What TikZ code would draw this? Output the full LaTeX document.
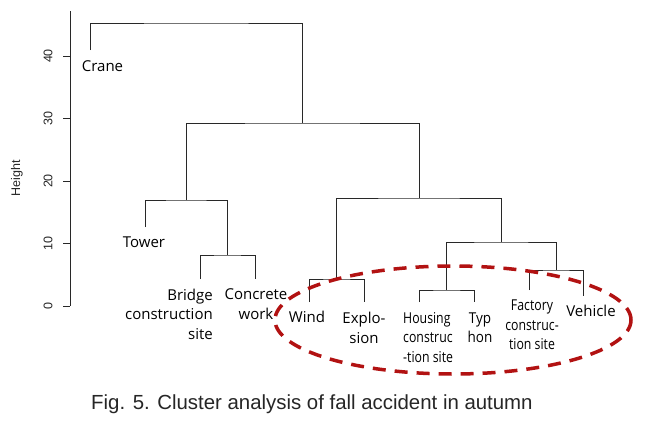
\documentclass[tikz,border=0pt]{standalone}
\usepackage{fontspec}
\setmainfont{Open Sans}
\newfontfamily\condfont[FakeStretch=0.82]{Open Sans}
\newfontfamily\typfont[FakeStretch=0.9]{Open Sans}
\newfontfamily\arialfont{Liberation Sans}
\usetikzlibrary{shapes.geometric}
\definecolor{clred}{RGB}{178,18,18}
\definecolor{treegray}{RGB}{40,40,40}
\begin{document}
\begin{tikzpicture}[x=1pt,y=-1pt,
  tree/.style={draw=treegray,line width=1pt},
  lab/.style={inner sep=0pt,font=\fontsize{15}{19.4}\selectfont,text=black},
  clab/.style={inner sep=0pt,font=\condfont\fontsize{15}{19.4}\selectfont,text=black},
  tlab/.style={inner sep=0pt,font=\typfont\fontsize{15}{19.4}\selectfont,text=black},
  ticklab/.style={inner sep=0pt,rotate=90,font=\arialfont\fontsize{12.5}{14}\selectfont,text=black!85},
  cluster/.style={draw=clred,line width=3.5pt,dash pattern=on 13pt off 9pt,ellipse,inner sep=0pt}
]
\fill[white] (0,0) rectangle (651,421);
\useasboundingbox (0,0) rectangle (651,421);

% axis
\draw[tree] (70,11) -- (70,306);
\foreach \v/\yy in {0/306,10/243.5,20/181,30/118.5,40/56}{
  \draw[tree] (63,\yy) -- (70,\yy);
  \node[ticklab] (tick\v) at (48,\yy) {\v};
}
\node[ticklab] (ylabel) at (17,178) {Height};

% leaf tips and merges
\coordinate (tCrane) at (90,50);
\coordinate (tTower) at (145,227);
\coordinate (tBridge) at (200,279);
\coordinate (tConcrete) at (255,279);
\coordinate (tWind) at (309,302);
\coordinate (tExplo) at (364,302);
\coordinate (tHousing) at (419,302);
\coordinate (tTyphoon) at (474,302);
\coordinate (tFactory) at (529,290);
\coordinate (tVehicle) at (583,296);
\coordinate (mBC) at (227,255);
\coordinate (mT) at (186,200);
\coordinate (mWE) at (336.5,279);
\coordinate (mHT) at (446.5,290);
\coordinate (mFV) at (556,270);
\coordinate (mHF) at (501,242);
\coordinate (mR) at (419,198);
\coordinate (mL) at (302,123);
\coordinate (mTop) at (196,23);

\draw[tree] (tBridge) |- (mBC) -| (tConcrete);
\draw[tree] (tTower) |- (mT) -| (mBC);
\draw[tree] (tWind) |- (mWE) -| (tExplo);
\draw[tree] (tHousing) |- (mHT) -| (tTyphoon);
\draw[tree] (tFactory) |- (mFV) -| (tVehicle);
\draw[tree] (mHT) |- (mHF) -| (mFV);
\draw[tree] (mWE) |- (mR) -| (mHF);
\draw[tree] (mT) |- (mL) -| (mR);
\draw[tree] (tCrane) |- (mTop) -| (mL);

% labels
\node[lab,anchor=base] (lCrane) at (102.5,71) {Crane};
\node[lab,anchor=base] (lTower) at (144,247) {Tower};
\node[lab,anchor=north east,align=right] (lBridge) at (213,288.7) {Bridge\\construction\\site};
\node[lab,anchor=north,align=center] (lConcrete) at (256,288.7) {Concrete\\work};
\node[lab,anchor=base] (lWind) at (307,322.7) {Wind};
\node[lab,anchor=north,align=center] (lExplo) at (364,312.1) {Explo-\\sion};
\node[clab,anchor=north west,align=left] (lHousing) at (403,312.3) {Housing\\construc\\-tion site};
\node[tlab,anchor=north,align=center] (lTyphoon) at (480,312.3) {Typ\\hon};
\node[clab,anchor=north,align=center] (lFactory) at (532,300) {Factory\\construc-\\tion site};
\node[lab,anchor=base] (lVehicle) at (591,316) {Vehicle};

% highlight
\node[cluster,minimum width=356pt,minimum height=108pt] (cluster) at (453,320) {};

% caption
\node[anchor=base west,inner sep=0pt,font=\arialfont\fontsize{20.4}{24}\selectfont,text=black!85] (caption) at (91,409) {Fig. 5. Cluster analysis of fall accident in autumn};
\end{tikzpicture}
\end{document}
